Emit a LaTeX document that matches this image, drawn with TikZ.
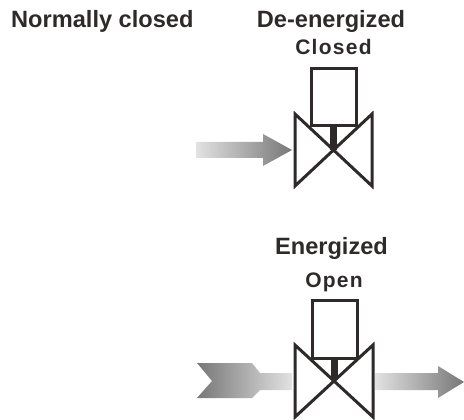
\documentclass[tikz,border=0pt]{standalone}
\usepackage{fontspec}
\setmainfont{Liberation Sans}
\begin{document}
\begin{tikzpicture}[x=1pt,y=-1pt,
  valveline/.style={draw=vdark,line width=3pt,line join=miter,miter limit=6},
  head/.style={font=\bfseries\fontsize{23.6}{24}\selectfont,text=vdark,inner sep=0pt},
  sub/.style={font=\bfseries\fontsize{21}{21}\selectfont\addfontfeatures{LetterSpace=6},text=vdark,inner sep=0pt}]
\definecolor{vdark}{HTML}{2E2A2A}
\definecolor{aL}{HTML}{E2E2E2}
\definecolor{aD}{HTML}{777777}
\useasboundingbox (0,0) rectangle (464,420);
\node[head,anchor=base west] (title) at (11,28) {Normally closed};
\node[head,anchor=base] (deen) at (331,28) {De-energized};
\node[sub,anchor=base] (closed) at (333.5,55) {Closed};
\node[head,anchor=base] (en) at (331.5,254) {Energized};
\node[sub,anchor=base] (open) at (334,287) {Open};
% top arrow
\shade[left color=aL,right color=aD] (196,142) -- (263,142) -- (263,134) -- (292,150) -- (263,166) -- (263,158) -- (196,158) -- cycle;
% top valve
\draw[valveline,fill=white] (295,114) -- (372,186) -- (372,114) -- (295,186) -- cycle;
\draw[valveline,fill=white] (311,69) rectangle (356,126);
\fill[vdark] (330,126) rectangle (337,150);
% bottom left arrow
\shade[left color=aD,right color=aL] (197,363) -- (252,363) -- (260,373) -- (292,373) -- (292,390) -- (260,390) -- (252,398) -- (197,398) -- (212,381) -- cycle;
% bottom right arrow
\shade[left color=aL,right color=aD] (375,373) -- (438,373) -- (438,366) -- (464,382) -- (438,398) -- (438,390) -- (375,390) -- cycle;
% bottom valve
\draw[valveline,fill=white] (295,345) -- (373,417) -- (373,345) -- (295,417) -- cycle;
\draw[valveline,fill=white] (312,300) rectangle (357,358);
\fill[vdark] (331,358) rectangle (338,380);
\end{tikzpicture}
\end{document}
